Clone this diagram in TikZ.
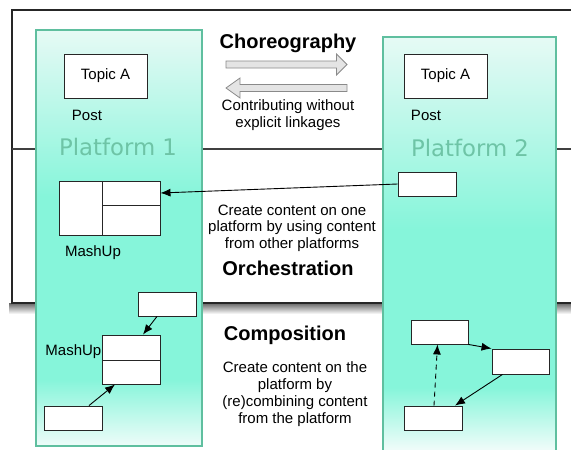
\documentclass[tikz,border=0pt]{standalone}
\usepackage{fontspec}
\setmainfont{Liberation Sans}
\newfontfamily\platfont{DejaVu Sans}
\usetikzlibrary{arrows.meta,calc}
\definecolor{pbot}{HTML}{EEFCF9}
\definecolor{paqua}{HTML}{86F5DA}
\definecolor{ptop}{HTML}{E6FAF5}
\definecolor{pborder}{HTML}{5FBF9F}
\definecolor{ptext}{HTML}{6EC4A6}
\definecolor{agray}{HTML}{E4E4E4}
\definecolor{aedge}{HTML}{8A8A8A}
\pgfdeclareverticalshading{platshade}{100bp}{color(0bp)=(pbot); color(25bp)=(pbot); color(33bp)=(paqua); color(55bp)=(paqua); color(75bp)=(ptop); color(100bp)=(ptop)}
\pgfdeclareverticalshading{platshadeb}{100bp}{color(0bp)=(pbot); color(28bp)=(pbot); color(35bp)=(paqua); color(53bp)=(paqua); color(75bp)=(ptop); color(100bp)=(ptop)}
\begin{document}
\begin{tikzpicture}[x=1pt,y=-1pt,
  box/.style={draw=black!85, fill=white, line width=0.9pt, inner sep=0pt, minimum width=58pt, minimum height=24pt},
  lbl/.style={font=\fontsize{15}{16.5}\selectfont, inner sep=0pt, align=center},
  head/.style={font=\fontsize{20}{22}\selectfont\bfseries, inner sep=0pt},
  plat/.style={draw=pborder, line width=1.5pt, shade, shading=platshade, inner sep=0pt},
  platlbl/.style={font=\fontsize{22.8}{24}\platfont, text=ptext, inner sep=0pt},
  conn/.style={line width=0.9pt, -{Latex[length=10pt,width=8pt]}},
  blockarrow/.style={fill=agray, draw=aedge, line width=0.8pt, line join=miter}]
\useasboundingbox (0,0) rectangle (571,450);
\fill[white] (0,0) rectangle (571,450);
% frame with shadow
\shade[top color=black!60, bottom color=white] (9,303) rectangle (571,314);
\draw[line width=1.2pt, draw=black!85, fill=white] (571,10) -- (12,10) -- (12,303) -- (571,303);
\draw[line width=1.2pt, draw=black!75] (12,149) -- (571,149);
% platforms
\node[plat, minimum width=166pt, minimum height=416pt] (P1) at (119,238) {};
\node[plat, shading=platshadeb, minimum width=173pt, minimum height=438pt] (P2) at (469.5,256) {};
% choreography
\node[head] (chor) at (288,43) {Choreography};
\draw[blockarrow] (226,61) -- (336.5,61) -- (336.5,54) -- (347,64.5) -- (336.5,75) -- (336.5,68) -- (226,68) -- cycle;
\draw[blockarrow] (347,84.5) -- (240,84.5) -- (240,78) -- (226,88) -- (240,98) -- (240,91.5) -- (347,91.5) -- cycle;
\node[lbl] (contrib) at (288,115) {Contributing without\\explicit linkages};
% topics
\node[box, minimum width=83pt, minimum height=44pt] (t1) at (105.5,76) {\fontsize{15}{16.5}\selectfont Topic A};
\node[box, minimum width=83pt, minimum height=44pt] (t2) at (445.5,76) {\fontsize{15}{16.5}\selectfont Topic A};
\node[lbl] (post1) at (87,115) {Post};
\node[lbl] (post2) at (426,115) {Post};
\node[platlbl] (pl1) at (118,147) {Platform 1};
\node[platlbl] (pl2) at (470,148) {Platform 2};
% orchestration
\node[box, minimum width=43pt, minimum height=54pt] (m1a) at (80.5,208) {};
\node[box, minimum width=58pt, minimum height=24pt] (m1b) at (131,193) {};
\node[box, minimum width=58pt, minimum height=30pt] (m1c) at (131,220) {};
\node[lbl] (mlab1) at (93,253) {MashUp};
\node[box] (s2) at (427,184) {};
\draw[conn] (s2.west) -- (m1b.east);
\node[lbl] (orchtxt) at (292,228) {Create content on one\\platform by using content\\from other platforms};
\node[head] (orch) at (288,268) {Orchestration};
% composition
\node[head] (comp) at (285,335) {Composition};
\node[lbl, font=\fontsize{15}{17}\selectfont] (comptxt) at (295,394.5) {Create content on the\\platform by\\(re)combining content\\from the platform};
\node[box] (c1) at (167,304) {};
\node[box, minimum height=25pt] (c2) at (131,347.5) {};
\node[box] (c3) at (131,372) {};
\node[box] (c4) at (73,418) {};
\node[lbl, anchor=east] (mlab2) at (101.5,352) {MashUp};
\draw[conn] ([xshift=-10pt]c1.south) -- ([xshift=12pt]c2.north);
\draw[conn] ([xshift=16pt]c4.north) -- ([xshift=-16pt]c3.south);
\node[box, minimum width=57pt] (r1) at (439.5,332) {};
\node[box, minimum width=57pt, minimum height=25pt] (r2) at (520.5,361.5) {};
\node[box] (r3) at (433,418) {};
\draw[conn] (r1.south east) -- (r2.north west);
\draw[conn] ([xshift=-18pt]r2.south) -- ([xshift=22pt]r3.north);
\draw[conn, dashed, dash pattern=on 5pt off 4pt] ([xshift=1pt]r3.north) -- ([xshift=-2pt]r1.south);
\end{tikzpicture}
\end{document}
